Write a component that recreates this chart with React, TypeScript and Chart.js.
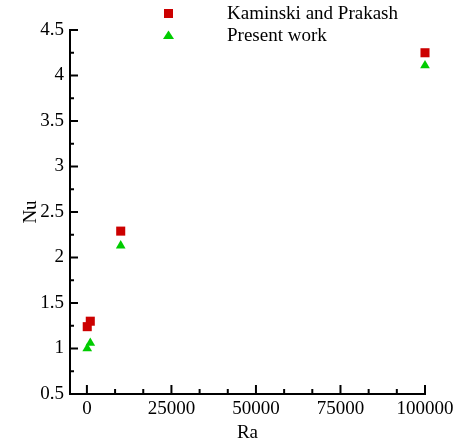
import React, { useEffect, useRef } from "react";
import { Chart, registerables } from "chart.js";

Chart.register(...registerables);

const seriesNames = ["Kaminski and Prakash", "Present work"];
const raKaminski = [100, 1000, 10000, 100000];
const nuKaminski = [1.24, 1.3, 2.29, 4.25];
const raPresent = [100, 1000, 10000, 100000];
const nuPresent = [1.0, 1.06, 2.13, 4.11];
const xTickValues = [0, 25000, 50000, 75000, 100000];
const yTickValues = [0.5, 1, 1.5, 2, 2.5, 3, 3.5, 4, 4.5];

const RED = "#cc0000";
const GREEN = "#00cc00";
const FONT = "Liberation Serif";

const inwardTicks = {
  id: "inwardTicks",
  afterDraw(chart: any) {
    const { ctx, chartArea, scales } = chart;
    const xs = scales.x;
    const ys = scales.y;
    ctx.save();
    ctx.strokeStyle = "#000";
    ctx.lineWidth = 2;
    ctx.lineCap = "butt";
    const line = (x1: number, y1: number, x2: number, y2: number) => {
      ctx.beginPath();
      ctx.moveTo(x1, y1);
      ctx.lineTo(x2, y2);
      ctx.stroke();
    };
    yTickValues.forEach((v, i) => {
      const py = ys.getPixelForValue(v);
      line(chartArea.left, py, chartArea.left + 8, py);
      if (i < yTickValues.length - 1) {
        const mid = (v + yTickValues[i + 1]) / 2;
        const pm = ys.getPixelForValue(mid);
        line(chartArea.left, pm, chartArea.left + 4, pm);
      }
    });
    xTickValues.forEach((v, i) => {
      const px = xs.getPixelForValue(v);
      line(px, chartArea.bottom, px, chartArea.bottom - 9);
      if (i < xTickValues.length - 1) {
        const step = (xTickValues[i + 1] - v) / 3;
        for (let k = 1; k < 3; k++) {
          const pm = xs.getPixelForValue(v + step * k);
          line(pm, chartArea.bottom, pm, chartArea.bottom - 5);
        }
      }
    });
    ctx.fillStyle = RED;
    ctx.fillRect(164, 9, 9, 9);
    ctx.fillStyle = GREEN;
    ctx.beginPath();
    ctx.moveTo(168.5, 30.5);
    ctx.lineTo(174, 39);
    ctx.lineTo(163, 39);
    ctx.closePath();
    ctx.fill();
    ctx.fillStyle = "#000";
    ctx.font = `19px "${FONT}"`;
    ctx.textBaseline = "middle";
    ctx.textAlign = "left";
    ctx.fillText(seriesNames[0], 227, 14);
    ctx.fillText(seriesNames[1], 227, 36);
    ctx.restore();
  },
};

export default function App() {
  const ref = useRef<HTMLCanvasElement>(null);
  useEffect(() => {
    if (!ref.current) return;
    const chart = new Chart(ref.current, {
      type: "scatter",
      data: {
        datasets: [
          {
            label: seriesNames[0],
            data: raKaminski.map((x, i) => ({ x, y: nuKaminski[i] })),
            pointStyle: "rect",
            pointRadius: 6.4,
            backgroundColor: RED,
            borderColor: RED,
            borderWidth: 0,
            clip: false,
          },
          {
            label: seriesNames[1],
            data: raPresent.map((x, i) => ({ x, y: nuPresent[i] })),
            pointStyle: "triangle",
            pointRadius: 5.6,
            backgroundColor: GREEN,
            borderColor: GREEN,
            borderWidth: 0,
            clip: false,
          },
        ],
      },
      options: {
        responsive: false,
        animation: false,
        layout: { padding: { left: 0, right: 34, top: 30, bottom: 0 } },
        plugins: { legend: { display: false }, tooltip: { enabled: false } },
        scales: {
          x: {
            type: "linear",
            min: -5000,
            max: 100000,
            afterBuildTicks: (s: any) => {
              s.ticks = xTickValues.map((v) => ({ value: v }));
            },
            afterFit: (s: any) => {
              s.height = 52;
            },
            grid: { display: true, drawOnChartArea: false, drawTicks: false },
            border: { display: true, color: "#000", width: 2 },
            ticks: {
              color: "#000",
              font: { family: FONT, size: 19 },
              padding: 4,
              maxRotation: 0,
              autoSkip: false,
              callback: (v: any) => String(v),
            },
            title: {
              display: true,
              text: "Ra",
              color: "#000",
              font: { family: FONT, size: 19 },
              padding: { top: 0, bottom: 2 },
            },
          },
          y: {
            type: "linear",
            min: 0.5,
            max: 4.5,
            afterBuildTicks: (s: any) => {
              s.ticks = yTickValues.map((v) => ({ value: v }));
            },
            afterFit: (s: any) => {
              s.width = 70;
            },
            grid: { display: true, drawOnChartArea: false, drawTicks: false },
            border: { display: true, color: "#000", width: 2 },
            ticks: {
              color: "#000",
              font: { family: FONT, size: 19 },
              padding: 6,
              autoSkip: false,
              callback: (v: any) => String(v),
            },
            title: {
              display: true,
              text: "Nu",
              color: "#000",
              font: { family: FONT, size: 19 },
              padding: { top: 20, bottom: 0 },
            },
          },
        },
      },
      plugins: [inwardTicks],
    });
    return () => chart.destroy();
  }, []);
  return (
    <div style={{ position: "fixed", left: 0, top: 0, width: 459, height: 446, background: "#fff" }}>
      <canvas ref={ref} width={459} height={446} style={{ display: "block" }} />
    </div>
  );
}
